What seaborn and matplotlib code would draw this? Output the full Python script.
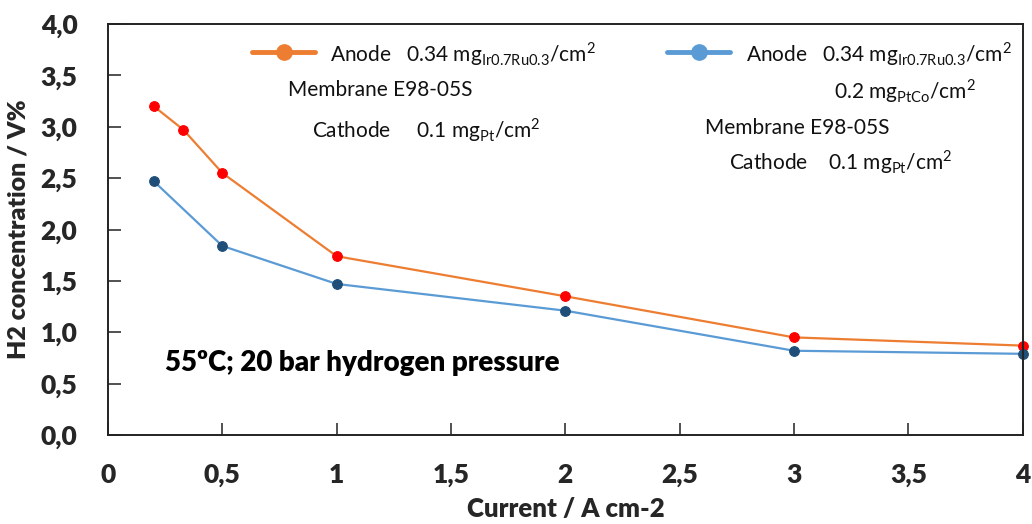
import matplotlib
matplotlib.use("Agg")
import matplotlib.pyplot as plt
import seaborn as sns
import pandas as pd
from matplotlib.lines import Line2D

# ---- data ----
x_ptco = [0.2, 0.33, 0.5, 1, 2, 3, 4]
y_ptco = [3.20, 2.97, 2.55, 1.74, 1.35, 0.95, 0.87]
x_ptco2 = [0.2, 0.5, 1, 2, 3, 4]
y_ptco2 = [2.47, 1.84, 1.47, 1.21, 0.82, 0.79]
xticks = [0, 0.5, 1, 1.5, 2, 2.5, 3, 3.5, 4]
xtick_labels = ["0", "0,5", "1", "1,5", "2", "2,5", "3", "3,5", "4"]
yticks = [0, 0.5, 1, 1.5, 2, 2.5, 3, 3.5, 4]
ytick_labels = ["0,0", "0,5", "1,0", "1,5", "2,0", "2,5", "3,0", "3,5", "4,0"]

sns.set_theme(style="white")
plt.rcParams['font.family'] = ['Lato', 'DejaVu Sans']
plt.rcParams['mathtext.fontset'] = 'custom'
plt.rcParams['mathtext.rm'] = 'Lato'

ORANGE = "#ED7D31"
RED = "#FF0000"
BLUE = "#5B9BD5"
DBLUE = "#1F4E79"
BW = "heavy"

fig = plt.figure(figsize=(10.32, 5.24), dpi=100)
ax = fig.add_axes([108/1032, 1-435/524, (1022.7-108)/1032, (435-24)/524])

d1 = pd.DataFrame({"x": x_ptco, "y": y_ptco})
d2 = pd.DataFrame({"x": x_ptco2, "y": y_ptco2})
sns.lineplot(data=d1, x="x", y="y", ax=ax, color=ORANGE, lw=1.6, marker="o",
             markersize=7, markerfacecolor=RED, markeredgecolor=RED, sort=False, clip_on=False)
sns.lineplot(data=d2, x="x", y="y", ax=ax, color=BLUE, lw=1.6, marker="o",
             markersize=7, markerfacecolor=DBLUE, markeredgecolor=DBLUE, sort=False, clip_on=False)

ax.set_xlim(0, 4)
ax.set_ylim(0, 4)
ax.set_xticks(xticks)
ax.set_xticklabels(xtick_labels, fontsize=19, fontweight=BW)
ax.set_yticks(yticks)
ax.set_yticklabels(ytick_labels, fontsize=19, fontweight=BW)
ax.tick_params(axis="both", direction="in", length=9, width=1.2, color="#333333",
               bottom=True, left=True, top=False, right=False)
ax.tick_params(axis="x", pad=20)
ax.tick_params(axis="y", pad=22)
for s in ax.spines.values():
    s.set_color("#222222")
    s.set_linewidth(1.4)
ax.set_xlabel("Current / A cm-2", fontsize=18.5, fontweight=BW, labelpad=7)
ax.set_ylabel("H2 concentration / V%", fontsize=18, fontweight=BW, labelpad=8)

ax.text(0.062, 0.175, "55ºC; 20 bar hydrogen pressure", transform=ax.transAxes,
        fontsize=20, fontweight=BW, color="black", va="center")

fs = 15
def ftxt(px, py, s):
    fig.text(px/1032, 1-py/524, s, fontsize=fs, va="center", ha="left", color="#111111")

for (x0, x1, col) in [(252, 315, ORANGE), (667, 730, BLUE)]:
    fig.add_artist(Line2D([x0/1032, x1/1032], [1-52/524, 1-52/524], color=col, lw=3.5,
                          marker=None, transform=fig.transFigure))
    fig.add_artist(Line2D([(x0+x1)/2/1032], [1-52/524], color=col, marker="o",
                          markersize=11, transform=fig.transFigure))

anode = r"Anode   0.34 mg$_{\mathregular{Ir0.7Ru0.3}}$/cm$^{\mathregular{2}}$"
ftxt(330, 54, anode)
ftxt(288, 90, "Membrane E98-05S")
ftxt(312, 130, r"Cathode     0.1 mg$_{\mathregular{Pt}}$/cm$^{\mathregular{2}}$")
ftxt(746, 54, anode)
ftxt(834, 91, r"0.2 mg$_{\mathregular{PtCo}}$/cm$^{\mathregular{2}}$")
ftxt(705, 128, "Membrane E98-05S")
ftxt(729, 162, r"Cathode    0.1 mg$_{\mathregular{Pt}}$/cm$^{\mathregular{2}}$")

fig.savefig("out.png", dpi=100)
